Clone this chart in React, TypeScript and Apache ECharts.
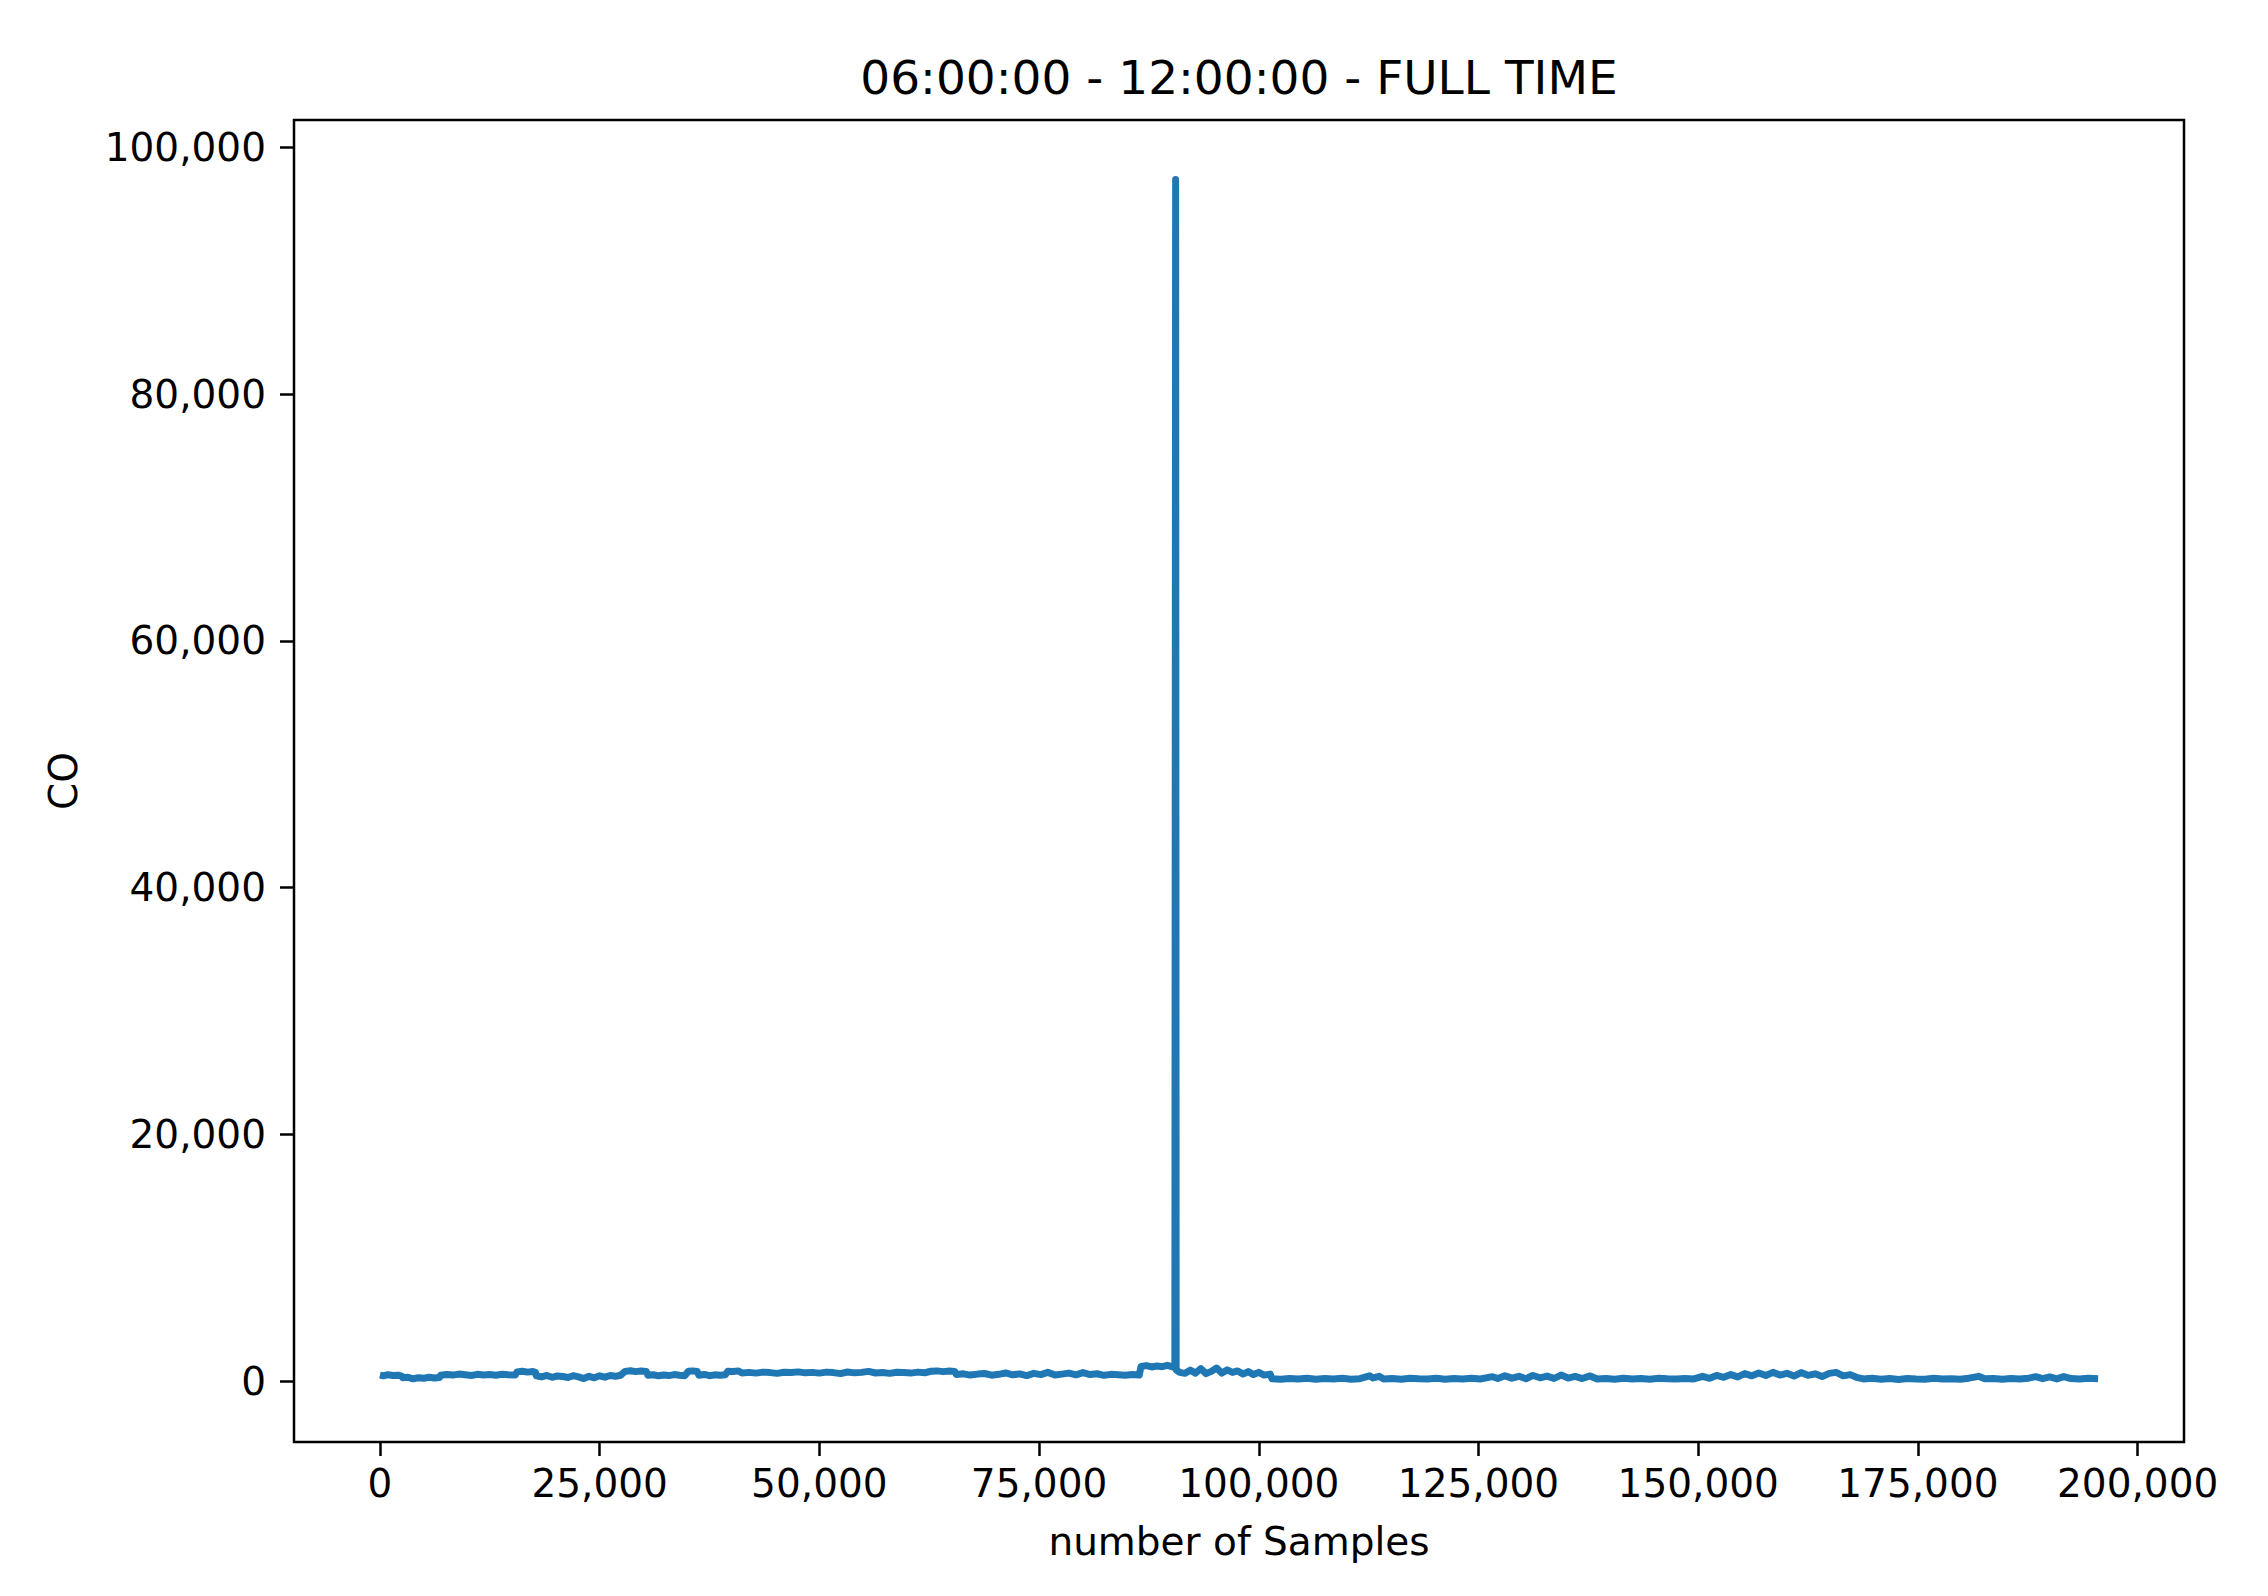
import React, { useEffect, useRef } from "react";
import * as echarts from "echarts";

// [sample index, CO] pairs
const earlySamples: [number, number][] = [
  [0, 480], [400, 420], [900, 510], [1500, 440], [2100, 470], [2500, 380], [2600, 260], [3200, 300],
  [3800, 180], [4400, 270], [5000, 220], [5600, 300], [6200, 240], [6800, 290],
  [6900, 470], [7600, 530], [8300, 480], [9000, 560], [9700, 500], [10400, 450], [11100, 540],
  [11800, 490], [12500, 520], [13200, 470], [13900, 550], [14600, 500], [15400, 480],
  [15600, 740], [16200, 790], [16800, 720], [17400, 770], [17700, 700],
  [17800, 420], [18400, 330], [19000, 450], [19600, 300], [20200, 410], [20800, 360], [21400, 280],
  [22000, 430], [22600, 330], [23200, 200], [23800, 380], [24400, 260], [25000, 420], [25600, 310],
  [26200, 450], [26800, 380], [27400, 470],
  [27900, 780], [28500, 830], [29100, 760], [29700, 810], [30300, 770],
  [30500, 460], [31100, 510], [31700, 420], [32300, 490], [32900, 440], [33500, 520], [34100, 470], [34700, 430],
  [35100, 790], [35600, 820], [36100, 770],
  [36300, 470], [36900, 530], [37500, 430], [38100, 500], [38700, 460], [39300, 510],
  [39600, 800], [40200, 770], [40800, 820],
  [41200, 650], [42000, 700], [42800, 640], [43600, 720], [44400, 680], [45200, 620], [46000, 710],
  [46800, 690], [47600, 740], [48400, 660], [49200, 700], [50000, 640], [50800, 720], [51600, 680],
  [52400, 600], [53200, 730], [54000, 660], [54800, 700], [55600, 780], [56400, 650], [57200, 690],
  [58000, 620], [58800, 710], [59600, 680], [60400, 640], [61200, 720], [62000, 670],
  [62700, 790], [63400, 820], [64100, 760], [64800, 810], [65400, 780],
  [65600, 520], [66400, 580], [67200, 480], [68000, 560], [68800, 610], [69600, 470], [70400, 540],
  [71200, 650], [72000, 500], [72800, 580], [73600, 440], [74400, 620], [75200, 520], [76000, 700],
  [76800, 480], [77600, 560], [78400, 640], [79200, 500], [80000, 680], [80800, 520], [81600, 590],
  [82400, 460], [83200, 540], [84000, 500], [84800, 470], [85600, 530], [86400, 490],
];

const spikeSamples: [number, number][] = [
  [86600, 1180], [87200, 1250], [87800, 1140], [88400, 1210], [89000, 1160], [89600, 1270],
  [90200, 1150], [90450, 1100], [90540, 97400], [90600, 900],
  [91000, 700], [91600, 620], [92200, 880], [92800, 640], [93400, 1000], [94000, 600], [94600, 780],
  [95200, 1050], [95800, 640], [96400, 900], [97000, 700], [97600, 820], [98200, 560], [98800, 760],
  [99400, 520], [100000, 700], [100600, 480], [101300, 560],
];

const lateSamples: [number, number][] = [
  [101500, 180], [102500, 150], [103500, 210], [104500, 160], [105500, 230], [106500, 140],
  [107500, 200], [108500, 170], [109500, 220], [110500, 150], [111500, 190], [112600, 420],
  [113000, 250], [113700, 380], [114200, 170], [115200, 210], [116200, 140], [117200, 230],
  [118200, 180], [119200, 160], [120200, 220], [121200, 150], [122200, 200], [123200, 170],
  [124200, 230], [125200, 160], [126600, 350], [127200, 200], [128000, 420], [128800, 230],
  [129600, 380], [130400, 180], [131200, 450], [132000, 260], [132800, 400], [133600, 210],
  [134400, 480], [135200, 240], [136000, 370], [136800, 200], [137700, 410], [138500, 160],
  [139500, 210], [140500, 150], [141500, 230], [142500, 170], [143500, 200], [144500, 140],
  [145500, 220], [146500, 180], [147500, 160], [148500, 210], [149500, 170], [150500, 380],
  [151300, 220], [152100, 450], [152900, 300], [153700, 520], [154500, 330], [155300, 600],
  [156100, 420], [156900, 650], [157700, 450], [158500, 700], [159300, 480], [160100, 620],
  [160900, 400], [161700, 680], [162500, 460], [163300, 580], [164100, 360], [164900, 620],
  [165700, 700], [166500, 420], [167300, 520], [168000, 300], [168800, 170], [169800, 220],
  [170800, 150], [171800, 200], [172800, 130], [173800, 210], [174800, 170], [175800, 150],
  [176800, 220], [177800, 160], [178800, 190], [179800, 140], [180800, 230], [181900, 380],
  [182600, 180], [183600, 210], [184600, 150], [185600, 200], [186600, 170], [187600, 230],
  [188400, 350], [189200, 190], [190000, 330], [190800, 170], [191600, 360], [192400, 200],
  [193400, 160], [194400, 220], [195500, 190],
];

const xTicks = [0, 25000, 50000, 75000, 100000, 125000, 150000, 175000, 200000];
const yTicks = [0, 20000, 40000, 60000, 80000, 100000];

const titleText = "06:00:00 - 12:00:00 - FULL TIME";
const xName = "number of Samples";
const yName = "CO";

const FONT = "DejaVu Sans";

export default function App() {
  const ref = useRef<HTMLDivElement>(null);
  useEffect(() => {
    if (!ref.current) return;
    const chart = echarts.init(ref.current, undefined, { renderer: "svg" });
    const data = [...earlySamples, ...spikeSamples, ...lateSamples];
    const fmt = (v: number) => Math.round(v).toLocaleString("en-US");
    chart.setOption({
      animation: false,
      backgroundColor: "#fff",
      grid: {
        left: 294,
        top: 120,
        width: 1890,
        height: 1322,
        show: true,
        borderColor: "#000",
        borderWidth: 2.5,
        backgroundColor: "transparent",
        containLabel: false,
      },
      xAxis: {
        type: "value",
        min: -9775,
        max: 205275,
        position: "bottom",
        axisLine: { show: false, onZero: false },
        splitLine: { show: false },
        axisTick: {
          show: true,
          length: 14,
          customValues: xTicks,
          lineStyle: { color: "#000", width: 2.5 },
        },
        axisLabel: {
          show: true,
          customValues: xTicks,
          formatter: fmt,
          margin: 22,
          fontFamily: FONT,
          fontSize: 39,
          color: "#000",
        },
      },
      yAxis: {
        type: "value",
        min: -4945,
        max: 102230,
        position: "left",
        axisLine: { show: false, onZero: false },
        splitLine: { show: false },
        axisTick: {
          show: true,
          length: 14,
          customValues: yTicks,
          lineStyle: { color: "#000", width: 2.5 },
        },
        axisLabel: {
          show: true,
          customValues: yTicks,
          formatter: fmt,
          margin: 28,
          fontFamily: FONT,
          fontSize: 39,
          color: "#000",
        },
      },
      graphic: [
        {
          type: "text",
          x: 1239,
          y: 77,
          style: {
            text: titleText,
            fontFamily: FONT,
            fontSize: 47,
            fill: "#000",
            textAlign: "center",
            textVerticalAlign: "middle",
          },
        },
        {
          type: "text",
          x: 1239,
          y: 1541,
          style: {
            text: xName,
            fontFamily: FONT,
            fontSize: 39,
            fill: "#000",
            textAlign: "center",
            textVerticalAlign: "middle",
          },
        },
        {
          type: "text",
          x: 63,
          y: 781,
          rotation: Math.PI / 2,
          style: {
            text: yName,
            fontFamily: FONT,
            fontSize: 39,
            fill: "#000",
            textAlign: "center",
            textVerticalAlign: "middle",
          },
        },
      ],
      series: [
        {
          type: "line",
          data,
          showSymbol: false,
          symbol: "none",
          lineStyle: { color: "#1f77b4", width: 7, join: "round" },
          itemStyle: { color: "#1f77b4" },
        },
      ],
    });
    return () => chart.dispose();
  }, []);
  return (
    <div
      ref={ref}
      style={{ position: "absolute", left: 0, top: 0, width: 2268, height: 1596 }}
    />
  );
}
